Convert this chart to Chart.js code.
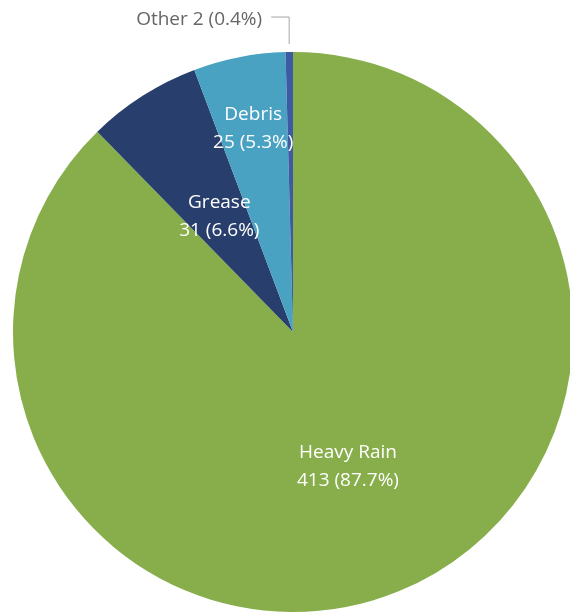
<!DOCTYPE html>
<html>
<head>
<meta charset="utf-8">
<script src="https://cdn.jsdelivr.net/npm/chart.js@4/dist/chart.umd.min.js"></script>
<style>
  html, body { margin: 0; padding: 0; background: #fff; overflow: hidden; }
  canvas { display: block; }
</style>
</head>
<body>
<canvas id="causeChart" width="574" height="613"></canvas>
<script>
// Overflow causes
const causes = ["Heavy Rain", "Grease", "Debris", "Other 2"];
const counts = [413, 31, 25, 2];
const colors = ["#87ae4a", "#283f6e", "#4aa2c3", "#3e5aa2"];

const total = counts.reduce((a, b) => a + b, 0);
const pct = v => (v / total * 100).toFixed(1) + "%";

// Draws the value labels inside slices, small ones outside with a leader line
const sliceLabels = {
    id: "sliceLabels",
    afterDatasetsDraw(chart, args, opts) {
        const ctx = chart.ctx;
        const arcs = chart.getDatasetMeta(0).data;
        ctx.save();
        ctx.font = opts.font;
        ctx.textBaseline = "middle";
        arcs.forEach((arc, i) => {
            const mid = (arc.startAngle + arc.endAngle) / 2;
            const r = arc.outerRadius;
            const cos = Math.cos(mid), sin = Math.sin(mid);
            if (counts[i] / total < 0.01) {
                // outside label with elbow line
                const x0 = arc.x + cos * (r + 8);
                const y0 = arc.y + sin * (r + 8);
                const yTop = y0 - 27;
                ctx.strokeStyle = "#a6a6a6";
                ctx.lineWidth = 1;
                ctx.beginPath();
                ctx.moveTo(x0, y0);
                ctx.lineTo(x0, yTop);
                ctx.lineTo(x0 - 18, yTop);
                ctx.stroke();
                ctx.fillStyle = "#666666";
                ctx.textAlign = "right";
                ctx.fillText(causes[i] + " (" + pct(counts[i]) + ")", x0 - 27, yTop + 3);
                return;
            }
            const d = r * opts.dist[i];
            const cx = arc.x + cos * d;
            const cy = arc.y + sin * d;
            ctx.fillStyle = "#ffffff";
            ctx.textAlign = "center";
            ctx.fillText(causes[i], cx, cy - 14);
            ctx.fillText(counts[i] + " (" + pct(counts[i]) + ")", cx, cy + 14);
        });
        ctx.restore();
    }
};

new Chart(document.getElementById("causeChart"), {
    type: "pie",
    data: {
        labels: causes,
        datasets: [{ data: counts, backgroundColor: colors, borderWidth: 0 }]
    },
    options: {
        responsive: false,
        animation: false,
        layout: { padding: { left: 12, top: 52, right: 0, bottom: 1 } },
        plugins: {
            legend: { display: false },
            tooltip: { enabled: false },
            sliceLabels: {
                font: "19px 'Open Sans', 'Noto Sans', sans-serif",
                dist: [0.52, 0.49, 0.74, 1]
            }
        }
    },
    plugins: [sliceLabels]
});
</script>
</body>
</html>
